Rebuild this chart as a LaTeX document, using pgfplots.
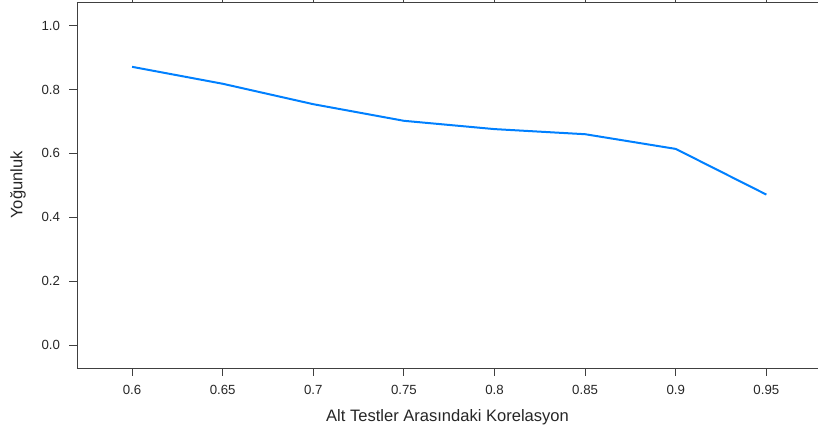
\documentclass[border=0pt]{standalone}
\usepackage{fontspec}
\setmainfont{Liberation Sans}
\usepackage{pgfplots}
\pgfplotsset{compat=1.18}
\definecolor{latblue}{RGB}{0,128,255}
\begin{document}
\begin{tikzpicture}
\begin{axis}[name=ax, at={(0,0)}, anchor=south west,
  scale only axis, width=741bp, height=366bp,
  xmin=0.5696, xmax=0.9785, ymin=-0.072, ymax=1.074,
  axis x line=box, axis y line=left,
  axis line style={-, black!75, line width=0.9bp},
  tick align=outside, major tick length=7.5bp,
  tick style={black!75, line width=0.9bp},
  xtick={0.6,0.65,0.7,0.75,0.8,0.85,0.9,0.95},
  xticklabels={0.6,0.65,0.7,0.75,0.8,0.85,0.9,0.95},
  ytick={0,0.2,0.4,0.6,0.8,1.0},
  yticklabels={0.0,0.2,0.4,0.6,0.8,1.0},
  ytick pos=left,
  /pgf/number format/assume math mode=true,
  tick label style={font=\fontsize{13.3}{14}\selectfont, text=black!85},
  xticklabel style={anchor=base, yshift=-19bp},
  yticklabel style={anchor=east, xshift=-6bp},
  xlabel={Alt Testler Arasındaki Korelasyon},
  ylabel={Yoğunluk},
  label style={font=\fontsize{16.6}{18}\selectfont, text=black!85},
  xlabel style={at={(axis description cs:0.5,0)}, anchor=base, yshift=-53bp},
  ylabel style={at={(axis description cs:0,0.5)}, anchor=center, yshift=59bp},
]
\addplot[color=latblue, line width=2bp, mark=none] coordinates {
  (0.60,0.871) (0.65,0.818) (0.70,0.754) (0.75,0.702)
  (0.80,0.676) (0.85,0.660) (0.90,0.614) (0.95,0.471)
};
\end{axis}
\pgfresetboundingbox
\path[use as bounding box] ([xshift=-77bp,yshift=-64bp]ax.south west) rectangle ([yshift=2bp]ax.north east);
\end{tikzpicture}
\end{document}
